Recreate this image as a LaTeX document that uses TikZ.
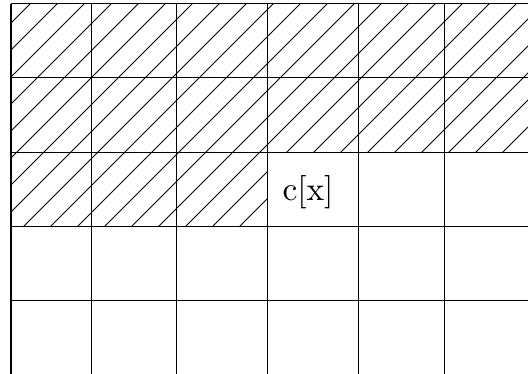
\documentclass[tikz,border=0pt]{standalone}
\usetikzlibrary{calc}
\tikzset{
  cell/.style={draw,line width=0.3pt},
  hatch/.style={draw,line width=0.3pt},
  edge/.style={draw,line width=0.65pt},
  lbl/.style={inner sep=1pt}
}
\begin{document}
\begin{tikzpicture}[x=0.3pt,y=-0.3pt]
\useasboundingbox (0,0) rectangle (528,374);
% hatched cells
\begin{scope}
\clip (11,4) -- (528,4) -- (528,153) -- (267,153) -- (267,227) -- (11,227) -- cycle;
\foreach \k in {-260,-233,...,540}
  \draw[hatch] (\k,240) -- ++(240,-240);
\end{scope}
% grid
\foreach \x in {91,176.5,267,358.5,444}
  \draw[cell] (\x,4) -- (\x,374);
\foreach \y in {4,78,153,227,301}
  \draw[cell] (11,\y) -- (528,\y);
\draw[edge] (11,4) -- (11,374);
% label
\node[lbl] (cx) at (308,192) {c[x]};
\end{tikzpicture}
\end{document}
